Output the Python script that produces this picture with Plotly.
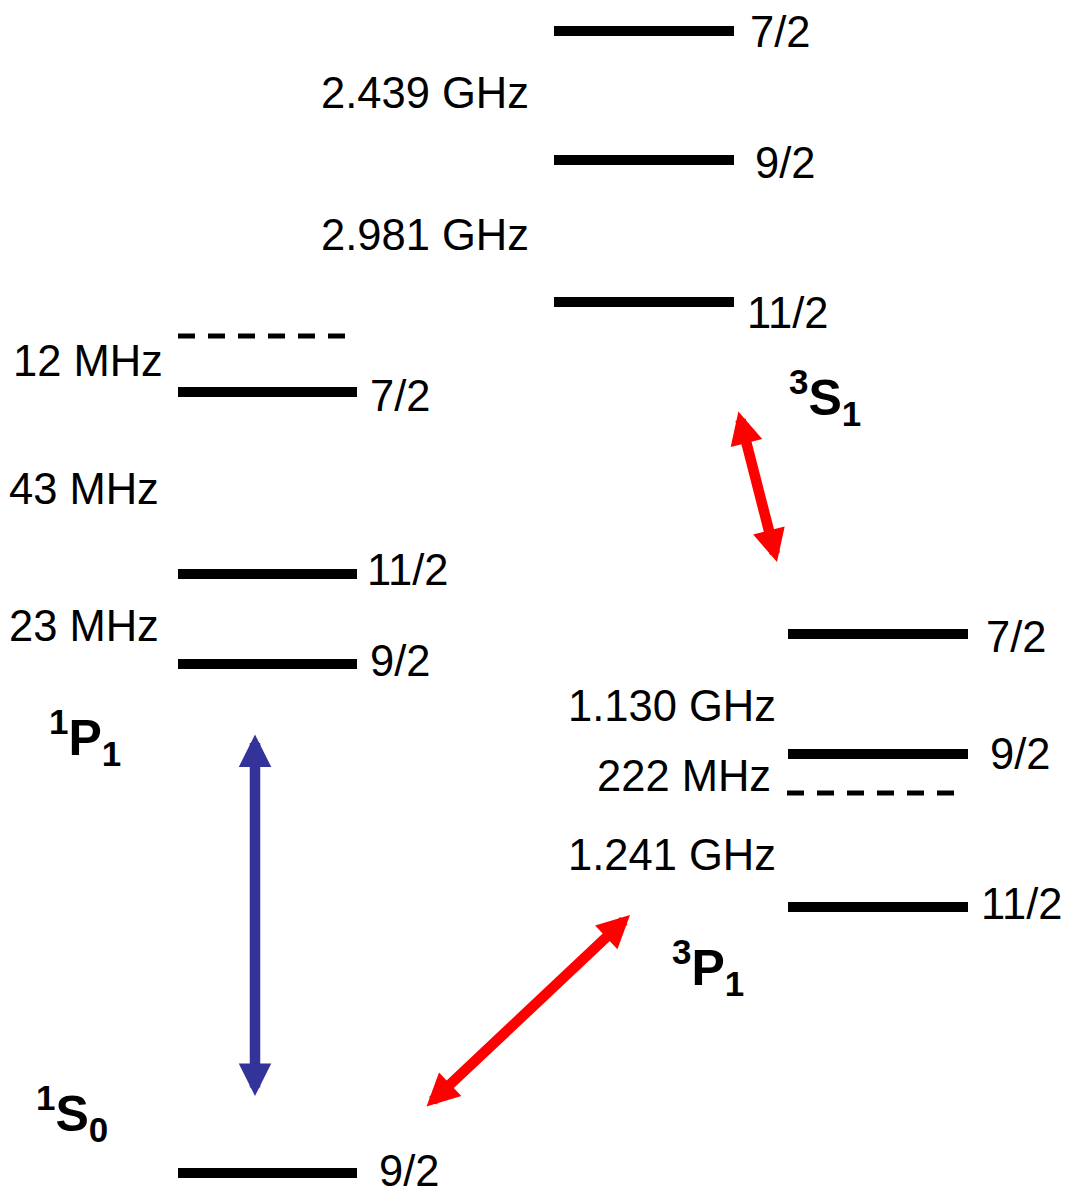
import plotly.graph_objects as go

# ---- Data (diagram coordinates: x to the right, y downward) ----
# Hyperfine levels: F label, y position, horizontal extent
level_F = ["9/2", "9/2", "11/2", "7/2", "11/2", "9/2", "7/2", "7/2", "9/2", "11/2"]
level_y = [1173, 664, 574, 392, 302, 160, 31, 634, 754, 907]
level_x0 = [178, 178, 178, 178, 554, 554, 554, 788, 788, 788]
level_x1 = [357, 357, 357, 357, 734, 734, 734, 968, 968, 968]
F_label_x = [377, 368, 365, 368, 745, 753, 748, 984, 988, 979]
F_label_y = [1171, 661, 570, 396, 313, 163, 32, 637, 754, 904]

# Reference (unperturbed) dashed levels
dash_y = [336, 793]
dash_x0 = [178, 787]
dash_x1 = [345, 958]

# Splitting labels
split_text = ["2.439 GHz", "2.981 GHz", "12 MHz", "43 MHz", "23 MHz",
              "1.130 GHz", "222 MHz", "1.241 GHz"]
split_xr = [531, 531, 165, 161, 161, 778, 773, 778]
split_y = [93, 235, 361, 489, 626, 706, 776, 855]

# Term labels
term_text = ["<b><sup>1</sup>S<sub>0</sub></b>", "<b><sup>1</sup>P<sub>1</sub></b>",
             "<b><sup>3</sup>P<sub>1</sub></b>", "<b><sup>3</sup>S<sub>1</sub></b>"]
term_x = [34, 47, 670, 787]
term_y = [1113, 737, 967, 397]

# Transitions (tip A, tip B)
arrow_x0 = [255, 425, 738]
arrow_y0 = [733, 1108, 410]
arrow_x1 = [255, 630, 777]
arrow_y1 = [1096, 915, 562]
arrow_col = ["#333399", "#FF0000", "#FF0000"]

FONT = "Liberation Sans, Arial, Helvetica, sans-serif"
TXT = 43.5

fig = go.Figure()

for x0, x1, y in zip(level_x0, level_x1, level_y):
    fig.add_trace(go.Scatter(x=[x0, x1], y=[y, y], mode="lines",
                             line=dict(color="black", width=10),
                             hoverinfo="skip", showlegend=False))

for x0, x1, y in zip(dash_x0, dash_x1, dash_y):
    fig.add_trace(go.Scatter(x=[x0, x1], y=[y, y], mode="lines",
                             line=dict(color="black", width=5, dash="17px,13px"),
                             hoverinfo="skip", showlegend=False))

ann = []
for t, x, y in zip(level_F, F_label_x, F_label_y):
    ann.append(dict(x=x, y=y, text=t, showarrow=False, xanchor="left",
                    yanchor="middle", font=dict(family=FONT, size=TXT, color="black")))
for t, x, y in zip(split_text, split_xr, split_y):
    ann.append(dict(x=x, y=y, text=t, showarrow=False, xanchor="right",
                    yanchor="middle", font=dict(family=FONT, size=TXT, color="black")))
for t, x, y in zip(term_text, term_x, term_y):
    ann.append(dict(x=x, y=y, text=t, showarrow=False, xanchor="left",
                    yanchor="middle", font=dict(family=FONT, size=50, color="black")))
for x0, y0, x1, y1, c in zip(arrow_x0, arrow_y0, arrow_x1, arrow_y1, arrow_col):
    ann.append(dict(x=x1, y=y1, ax=x0, ay=y0, xref="x", yref="y", axref="x", ayref="y",
                    text="", showarrow=True, arrowside="end+start",
                    arrowhead=2, startarrowhead=2, arrowsize=0.62, startarrowsize=0.62,
                    arrowwidth=10.5, arrowcolor=c, standoff=0, startstandoff=0))

fig.update_layout(
    width=1068, height=1192,
    margin=dict(l=0, r=0, t=0, b=0),
    paper_bgcolor="white", plot_bgcolor="white",
    xaxis=dict(range=[0, 1068], visible=False, fixedrange=True),
    yaxis=dict(range=[1192, 0], visible=False, fixedrange=True),
    annotations=ann,
    showlegend=False,
)

fig.write_html("out.html", config={"displayModeBar": False},
               post_script="document.body.style.margin='0';document.body.style.overflow='hidden';")
